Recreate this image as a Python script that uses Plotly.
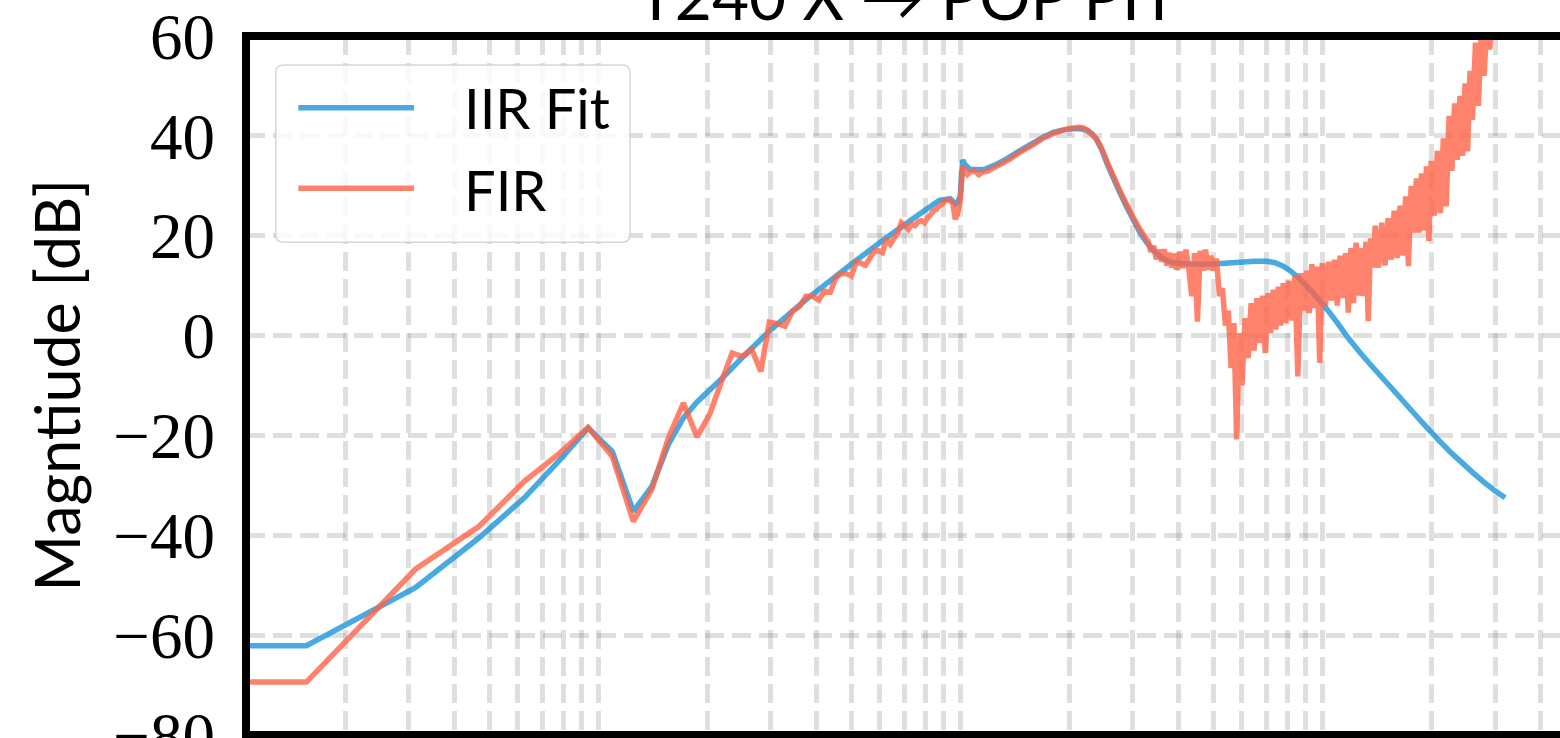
import math
import plotly.graph_objects as go

# ---------------- data ----------------
DF_HZ = 1 / 64  # FFT bin spacing [Hz]

# IIR fit: frequency [Hz] and magnitude [dB]
iir_freq = [0.005, 0.015625, 0.03125, 0.046875, 0.0625, 0.078125, 0.09375, 0.109375, 0.125,
            0.140625, 0.15625, 0.171875, 0.1875, 0.203125, 0.21875, 0.25, 0.296875, 0.375,
            0.5, 0.625, 0.75, 0.875, 0.9375, 0.96875, 0.984375, 1.0, 1.015625, 1.03125,
            1.0625, 1.158, 1.25, 1.343, 1.45, 1.591, 1.7, 1.807, 1.93, 2.052, 2.15, 2.235,
            2.31, 2.381, 2.46, 2.537, 2.65, 2.762, 2.88, 3.006, 3.137, 3.273, 3.42, 3.562,
            3.7, 3.877, 4.2, 4.6, 5.11, 5.93, 6.5, 7.02, 7.4, 7.8, 8.15, 8.5, 9.0, 9.44,
            10.0, 10.5, 11.1, 11.68, 12.2, 12.71, 13.54, 14.5, 15.71, 17.0, 18.2, 19.43,
            21.0, 22.5, 24.01, 26.0, 28.0, 30.0, 32.0]
iir_db = [-62.1, -62.1, -50.5, -40.5, -32.5, -25.0, -18.5, -23.2, -35.2,
          -30.2, -21.8, -16.5, -13.3, -10.9, -8.7, -4.4, 0.9, 7.2,
          14.3, 19.6, 23.7, 27.1, 27.4, 26.4, 26.8, 28.0, 35.2, 34.2,
          33.3, 33.2, 34.2, 35.4, 36.9, 38.6, 39.8, 40.7, 41.2, 41.4, 41.4, 41.1,
          40.4, 39.2, 37.2, 34.6, 31.5, 28.6, 25.8, 23.2, 20.6, 18.6, 17.0, 15.9,
          15.1, 14.6, 14.4, 14.3, 14.4, 14.7, 14.9, 14.9, 14.6, 13.9, 13.0, 11.9, 10.1, 8.5,
          6.4, 4.5, 2.2, -0.1, -1.8, -3.4, -5.7, -8.1, -10.9, -13.7, -16.1, -18.4,
          -21.0, -23.2, -25.1, -27.4, -29.4, -31.1, -32.5]

# FIR: DC bin (lands left of the axis on a log scale), low-frequency FFT bins, then dense part
fir_dc_freq = 0.005
fir_dc_db = -69.4
fir_bins = list(range(1, 69)) + [70, 72, 74, 76] + list(range(80, 209, 4))
fir_bin_db = [-69.4, -46.8, -38.2, -29.2, -23.6, -18.4, -24.2, -37.2, -30.8, -20.5,
              -13.5, -20.3, -15.8, -9.3, -3.5, -4.2, -2.8, -7.2, 2.7, 2.4,
              1.9, 4.9, 5.8, 7.9, 7.9, 7.1, 8.9, 8.7, 11.6, 12.4,
              12.4, 11.9, 14.7, 14.5, 14.1, 15.5, 16.9, 17.0, 16.6, 19.3,
              18.3, 19.5, 20.6, 22.6, 22.0, 21.3, 22.3, 22.0, 22.8, 23.0,
              22.6, 23.6, 24.2, 25.0, 25.3, 26.0, 26.3, 27.0, 27.2, 27.0,
              26.6, 23.3, 24.6, 27.0, 34.0, 33.0, 32.3, 32.8,
              33.0, 32.2, 32.8, 32.9,
              33.8, 34.6, 35.4, 36.4, 37.2, 37.9, 38.7, 39.5, 40.0, 40.5,
              40.9, 41.2, 41.5, 41.6, 41.7, 41.6, 41.1, 40.3, 39.5, 38.0,
              36.2, 34.3, 32.6, 30.9, 29.3, 27.8, 26.4, 25.0, 23.7, 22.6,
              21.5, 20.5, 19.4]
fir_hf_freq = [3.30, 3.36, 3.42, 3.48, 3.54, 3.60, 3.66, 3.72, 3.78, 3.84, 3.90, 3.96,
               4.04, 4.12, 4.20, 4.28, 4.36, 4.44, 4.52, 4.60, 4.68, 4.76, 4.84, 4.92, 5.00,
               5.1, 5.2, 5.3, 5.4, 5.5, 5.6, 5.7, 5.8, 5.9, 6.0,
               6.12, 6.24, 6.36, 6.48, 6.60, 6.72, 6.84, 6.96, 7.08, 7.20, 7.32, 7.44, 7.56,
               7.68, 7.80, 7.92,
               8.08, 8.24, 8.40, 8.56, 8.72, 8.88, 9.04, 9.20, 9.36, 9.52, 9.68, 9.84, 10.0,
               10.2, 10.4, 10.6, 10.8, 11.0, 11.2, 11.4, 11.6, 11.8, 12.0, 12.2, 12.4, 12.6,
               12.8, 13.0, 13.2, 13.4, 13.6, 13.8, 14.0,
               14.3, 14.6, 14.9, 15.2, 15.5, 15.8, 16.1, 16.4, 16.7, 17.0, 17.3, 17.6, 17.9,
               18.2, 18.5, 18.8, 19.1, 19.4, 19.7, 20.0,
               20.4, 20.8, 21.2, 21.6, 22.0, 22.4, 22.8, 23.2, 23.6, 24.0, 24.4, 24.8, 25.2,
               25.6, 26.0,
               26.5, 27.0, 27.5, 28.0, 28.5, 29.0, 29.5, 30.0, 30.5, 31.0, 31.5, 32.0]
fir_hf_db = [19.0, 16.8, 18.0, 15.3, 17.2, 14.8, 17.3, 14.0, 16.6, 13.6, 16.4, 13.2,
             16.8, 13.5, 17.2, 13.3, 7.9, 16.5, 2.8, 17.0, 13.0, 17.2, 13.2, 16.0, 13.0,
             15.4, 7.9, 9.5, 2.0, 5.0, -6.5, 2.5, -20.8, 0.5, -10.0,
             3.5, -4.5, 6.5, -3.0, 7.5, -1.5, 8.0, -3.5, 8.5, 0.5, 9.2, 1.2, 9.8,
             2.0, 10.5, 2.5,
             11.0, 3.0, 12.0, -8.2, 12.5, 5.0, 13.0, 4.5, 14.3, 5.5, 13.8, -5.5, 14.5,
             5.9, 14.8, 7.0, 15.2, 6.0, 16.0, 7.5, 16.5, 4.6, 17.5, 6.5, 18.6, 8.0,
             17.5, 7.9, 18.8, 2.9, 19.5, 13.6, 22.0,
             13.6, 22.6, 14.0, 23.5, 15.2, 25.0, 15.5, 26.0, 16.0, 27.9, 13.9, 30.0, 20.6,
             31.5, 20.6, 32.5, 21.0, 33.9, 18.9, 35.0,
             24.0, 37.0, 24.5, 39.5, 25.9, 44.0, 33.0, 46.5, 35.2, 48.0, 36.0, 50.5, 36.9,
             53.0, 43.2,
             58.7, 46.0, 61.0, 52.0, 63.0, 57.3, 64.0, 61.0, 65.0, 62.0, 66.0, 63.0]

assert len(iir_freq) == len(iir_db)
assert len(fir_bins) == len(fir_bin_db)
assert len(fir_hf_freq) == len(fir_hf_db)

y_ticks = [-80, -60, -40, -20, 0, 20, 40, 60]
x_grid_hz = [m * 10.0 ** d for d in range(-2, 2) for m in range(1, 10)]
x_range_hz = [0.01064, 45.36]
y_range_db = [-80, 60]

title_text = "T240 X \u2192 POP PIT"
ylabel_text = "Magntiude [dB]"
legend_labels = ["IIR Fit", "FIR"]

# ---------------- styling / layout ----------------
BLUE = "rgba(26,149,217,0.8)"
RED = "rgba(255,99,71,0.8)"
GRID = "rgba(128,128,128,0.25)"
SANS = "Lato"
SERIF = "Liberation Serif"
LW = 5.5

W, H = 1560, 738
ML, MT, MB = 246, 36, 3
PW = W - ML
PH = H - MT - MB


def px(xp):
    return (xp - ML) / PW


def py(yp):
    return (H - MB - yp) / PH


fir_freq = [fir_dc_freq] + [k * DF_HZ for k in fir_bins] + fir_hf_freq
fir_db = [fir_dc_db] + fir_bin_db + fir_hf_db

fig = go.Figure()
fig.add_trace(go.Scatter(x=iir_freq, y=iir_db, mode="lines", name=legend_labels[0],
                         line=dict(color=BLUE, width=LW, simplify=False),
                         hoverinfo="skip", showlegend=False))
fig.add_trace(go.Scatter(x=fir_freq, y=fir_db, mode="lines", name=legend_labels[1],
                         line=dict(color=RED, width=LW, simplify=False),
                         hoverinfo="skip", showlegend=False))

shapes = []
# spines (left, top, bottom) drawn centred on the axes edges
sw = 8
shapes.append(dict(type="line", xref="paper", yref="paper", x0=0, x1=0,
                   y0=py(H - MB + sw / 2), y1=py(MT - sw / 2),
                   line=dict(color="black", width=sw), layer="above"))
shapes.append(dict(type="line", xref="paper", yref="paper", x0=px(ML - sw / 2), x1=1.0,
                   y0=1, y1=1, line=dict(color="black", width=sw), layer="above"))
shapes.append(dict(type="line", xref="paper", yref="paper", x0=px(ML - sw / 2), x1=1.0,
                   y0=0, y1=0, line=dict(color="black", width=sw), layer="above"))

# legend frame with rounded corners
x0, x1, y0, y1, r = 275.7, 630.0, 65.0, 242.3, 8.0
path = (f"M {px(x0 + r)},{py(y0)} L {px(x1 - r)},{py(y0)} "
        f"Q {px(x1)},{py(y0)} {px(x1)},{py(y0 + r)} L {px(x1)},{py(y1 - r)} "
        f"Q {px(x1)},{py(y1)} {px(x1 - r)},{py(y1)} L {px(x0 + r)},{py(y1)} "
        f"Q {px(x0)},{py(y1)} {px(x0)},{py(y1 - r)} L {px(x0)},{py(y0 + r)} "
        f"Q {px(x0)},{py(y0)} {px(x0 + r)},{py(y0)} Z")
shapes.append(dict(type="path", xref="paper", yref="paper", path=path,
                   fillcolor="rgba(255,255,255,0.8)",
                   line=dict(color="rgba(204,204,204,0.8)", width=1.5), layer="above"))
for yy, col in [(107.7, BLUE), (188.3, RED)]:
    shapes.append(dict(type="line", xref="paper", yref="paper", x0=px(298.3), x1=px(414),
                       y0=py(yy), y1=py(yy), line=dict(color=col, width=LW), layer="above"))

annotations = [
    dict(text=legend_labels[0], x=px(462), y=py(108), xref="paper", yref="paper",
         xanchor="left", yanchor="middle", showarrow=False,
         font=dict(family=SANS, size=56, color="black")),
    dict(text=legend_labels[1], x=px(462), y=py(189), xref="paper", yref="paper",
         xanchor="left", yanchor="middle", showarrow=False,
         font=dict(family=SANS, size=56, color="black")),
    dict(text=ylabel_text, x=px(56), y=py(385.5), xref="paper", yref="paper",
         xanchor="center", yanchor="middle", textangle=-90, showarrow=False,
         font=dict(family=SANS, size=61, color="black")),
    dict(text=title_text, x=px(907), y=py(36), xref="paper", yref="paper",
         xanchor="center", yanchor="bottom", showarrow=False,
         font=dict(family=SANS, size=64, color="black")),
]

fig.update_layout(
    width=W, height=H, autosize=False,
    margin=dict(l=ML, r=0, t=MT, b=MB, pad=0, autoexpand=False),
    paper_bgcolor="white", plot_bgcolor="white",
    shapes=shapes, annotations=annotations, showlegend=False,
    xaxis=dict(type="log", range=[math.log10(x_range_hz[0]), math.log10(x_range_hz[1])],
               tickvals=x_grid_hz, showticklabels=False, ticks="", automargin=False,
               showgrid=True, gridcolor=GRID, gridwidth=5, griddash="19px,8px",
               zeroline=False, showline=False, fixedrange=True),
    yaxis=dict(range=y_range_db, tickvals=y_ticks, ticks="", automargin=False,
               ticklabelstandoff=30, ticklabeloverflow="allow",
               tickfont=dict(family=SERIF, size=65, color="black"),
               showgrid=True, gridcolor=GRID, gridwidth=5, griddash="19px,8px",
               zeroline=False, showline=False, fixedrange=True),
)

fig.write_html("out.html", config={"displayModeBar": False},
               post_script="document.body.style.margin='0';document.body.style.overflow='hidden';")
